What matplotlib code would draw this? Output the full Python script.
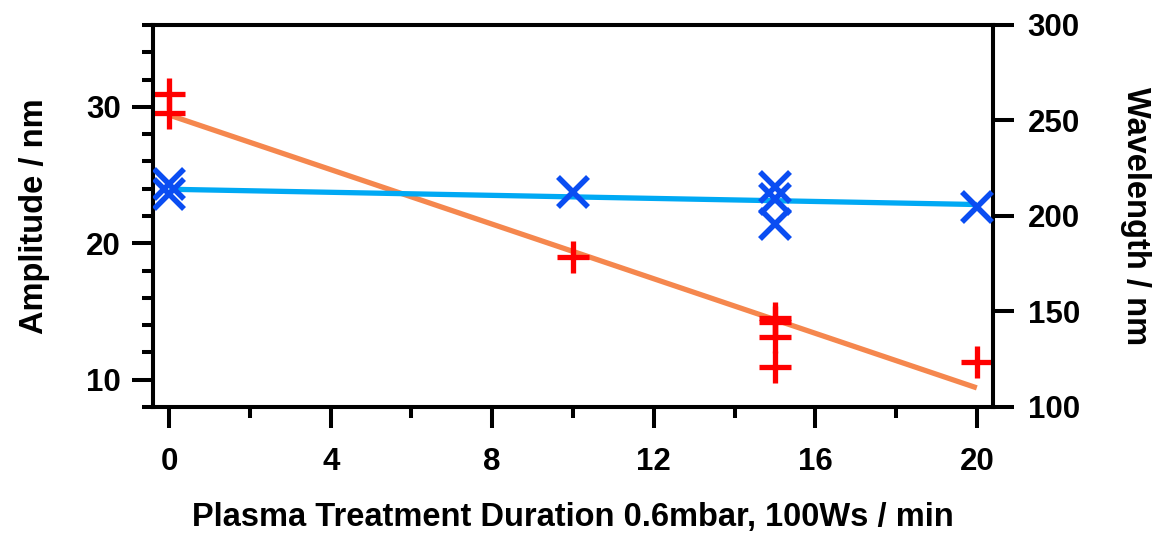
import matplotlib
matplotlib.use("Agg")
import matplotlib.pyplot as plt
from matplotlib.ticker import FixedLocator

plt.rcParams['font.family'] = ['Liberation Sans', 'DejaVu Sans']
plt.rcParams['font.weight'] = 'bold'

# Amplitude data (left axis, red +)
amp_x = [0, 0, 10, 15, 15, 15, 15, 20]
amp_y = [30.95, 29.55, 19.0, 14.55, 14.2, 13.1, 10.95, 11.3]
# Wavelength data (right axis, blue x)
wl_x = [0, 0, 10, 15, 15, 15, 20]
wl_y = [216.8, 211.5, 212.6, 215.2, 209.0, 195.8, 204.7]
# Linear fits
fit_x = [0, 20]
amp_fit = [29.4, 9.4]
wl_fit = [214.0, 206.0]

x_ticks = [0, 4, 8, 12, 16, 20]
x_minor = [2, 6, 10, 14, 18]
left_ticks = [10, 20, 30]
left_minor = [8, 12, 14, 16, 18, 22, 24, 26, 28, 32, 34, 36]
right_ticks = [100, 150, 200, 250, 300]

fig = plt.figure(figsize=(11.55, 5.35), dpi=100)
ax = fig.add_axes([0.1325, 0.2393, 0.7272, 0.7140])
ax2 = ax.twinx()

ax.plot(fit_x, amp_fit, color='#F5874E', lw=3.8, solid_capstyle='butt', zorder=2)
ax.plot(amp_x, amp_y, ls='none', marker='+', ms=23, mew=3.8, color='#FF0000', zorder=3)
ax2.plot(fit_x, wl_fit, color='#00A9F4', lw=3.8, solid_capstyle='butt', zorder=2)
ax2.plot(wl_x, wl_y, ls='none', marker='x', ms=21, mew=4.0, color='#0A4DF2', zorder=3)

ax.set_xlim(-0.4, 20.4)
ax.set_ylim(8, 36)
ax2.set_ylim(100, 300)

ax.xaxis.set_major_locator(FixedLocator(x_ticks))
ax.xaxis.set_minor_locator(FixedLocator(x_minor))
ax.yaxis.set_major_locator(FixedLocator(left_ticks))
ax.yaxis.set_minor_locator(FixedLocator(left_minor))
ax2.yaxis.set_major_locator(FixedLocator(right_ticks))
ax2.yaxis.set_minor_locator(FixedLocator([]))

lw = 2.9
for a in (ax, ax2):
    for s in a.spines.values():
        s.set_linewidth(lw)

ax.tick_params(axis='both', which='major', direction='out', length=15, width=lw, labelsize=22.5)
ax.tick_params(axis='both', which='minor', direction='out', length=8, width=lw)
ax.tick_params(axis='x', which='major', pad=14)
ax.tick_params(axis='y', which='major', pad=8)
ax2.tick_params(axis='y', which='major', direction='out', length=15, width=lw, labelsize=22.5, pad=10)

for lab in ax.get_xticklabels() + ax.get_yticklabels() + ax2.get_yticklabels():
    lab.set_fontweight('bold')

ax.set_xlabel('Plasma Treatment Duration 0.6mbar, 100Ws / min', fontsize=23.5, fontweight='bold', labelpad=18)
ax.set_ylabel('Amplitude / nm', fontsize=23.5, fontweight='bold', labelpad=26)
ax2.set_ylabel('Wavelength / nm', fontsize=23.5, fontweight='bold', rotation=270, labelpad=51)

fig.savefig('out.png', dpi=100)
